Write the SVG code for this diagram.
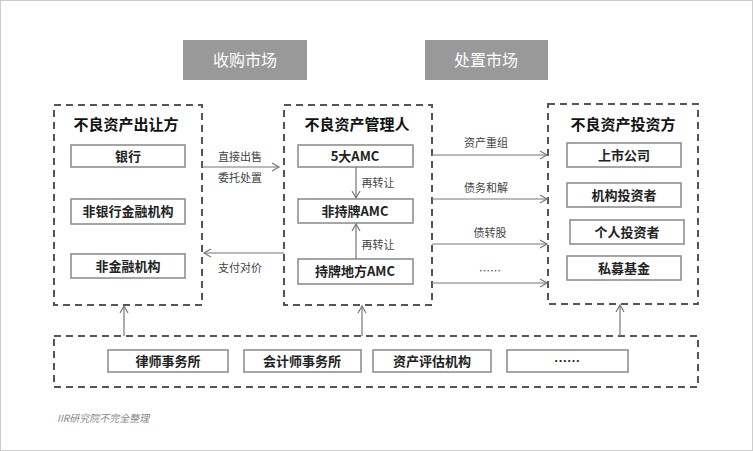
<svg xmlns="http://www.w3.org/2000/svg" width="753" height="451" viewBox="0 0 753 451">
<defs>
<style>
text{font-family:"Noto Sans CJK SC","Liberation Sans",sans-serif;text-anchor:middle}
.d{fill:none;stroke:#555;stroke-width:2;stroke-dasharray:7,5}
.b{fill:#fff;stroke:#888;stroke-width:1.5}
.bt{font-size:13px;font-weight:bold;fill:#222}
.h{font-size:15px;font-weight:bold;fill:#111}
.l{font-size:11px;fill:#444}
.c{stroke:#777;stroke-width:1.2;fill:none;marker-end:url(#a)}
</style>
<marker id="a" markerWidth="10" markerHeight="10" refX="8" refY="5" orient="auto" markerUnits="userSpaceOnUse"><path d="M1,1 L8,5 L1,9" fill="none" stroke="#777" stroke-width="1.2"/></marker>
</defs>
<rect x="0.5" y="0.5" width="752" height="450" fill="#fff" stroke="#ccc"/>
<g id="market1"><rect x="183" y="40" width="124" height="40" fill="#999"/><text x="245" y="66" font-size="16" fill="#fff">收购市场</text></g>
<g id="market2"><rect x="425" y="40" width="123" height="40" fill="#999"/><text x="486" y="66" font-size="16" fill="#fff">处置市场</text></g>
<g id="sellers"><rect class="d" x="54" y="105" width="148" height="200"/><text class="h" x="126" y="130">不良资产出让方</text>
<rect class="b" x="71" y="145" width="114" height="22"/><text class="bt" x="128" y="161">银行</text>
<rect class="b" x="71" y="199" width="114" height="25"/><text class="bt" x="128" y="216">非银行金融机构</text>
<rect class="b" x="71" y="254" width="114" height="24"/><text class="bt" x="128" y="271">非金融机构</text></g>
<g id="managers"><rect class="d" x="284" y="105" width="148" height="200"/><text class="h" x="357" y="130">不良资产管理人</text>
<rect class="b" x="298" y="145" width="115" height="22"/><text class="bt" x="355" y="161">5大AMC</text>
<rect class="b" x="298" y="199" width="115" height="24"/><text class="bt" x="355" y="216">非持牌AMC</text>
<rect class="b" x="298" y="259" width="115" height="25"/><text class="bt" x="355" y="276">持牌地方AMC</text></g>
<g id="investors"><rect class="d" x="548" y="104" width="150" height="200"/><text class="h" x="623" y="130">不良资产投资方</text>
<rect class="b" x="567" y="143" width="114" height="24"/><text class="bt" x="624" y="160">上市公司</text>
<rect class="b" x="567" y="183" width="114" height="24"/><text class="bt" x="624" y="200">机构投资者</text>
<rect class="b" x="570" y="220" width="114" height="24"/><text class="bt" x="627" y="237">个人投资者</text>
<rect class="b" x="567" y="256" width="114" height="24"/><text class="bt" x="624" y="273">私募基金</text></g>
<g id="services"><rect class="d" x="54" y="336" width="644" height="51"/>
<rect class="b" x="108" y="350" width="120" height="22"/><text class="bt" x="168" y="366">律师事务所</text>
<rect class="b" x="244" y="350" width="117" height="22"/><text class="bt" x="302" y="366">会计师事务所</text>
<rect class="b" x="373" y="350" width="118" height="22"/><text class="bt" x="432" y="366">资产评估机构</text>
<rect class="b" x="507" y="350" width="121" height="22"/><text class="bt" x="567" y="366">……</text></g>
<g id="connectors">
<line class="c" x1="202" y1="167" x2="279" y2="167"/>
<line class="c" x1="284" y1="253" x2="204" y2="253"/>
<line class="c" x1="356" y1="167" x2="356" y2="198"/>
<line class="c" x1="356" y1="259" x2="356" y2="224"/>
<line class="c" x1="432" y1="155" x2="547" y2="155"/>
<line class="c" x1="432" y1="199" x2="547" y2="199"/>
<line class="c" x1="432" y1="244" x2="547" y2="244"/>
<line class="c" x1="432" y1="283" x2="547" y2="283"/>
<line class="c" x1="124" y1="336" x2="124" y2="306"/>
<line class="c" x1="362" y1="336" x2="362" y2="306"/>
<line class="c" x1="620" y1="336" x2="620" y2="305"/>
<text class="l" x="240" y="161">直接出售</text><text class="l" x="240" y="182">委托处置</text>
<text class="l" x="240" y="272">支付对价</text>
<text class="l" x="378" y="187">再转让</text><text class="l" x="378" y="249">再转让</text>
<text class="l" x="486" y="147">资产重组</text><text class="l" x="486" y="192">债务和解</text>
<text class="l" x="490" y="237">债转股</text><text class="l" x="490" y="275">……</text>
</g>
<text x="57" y="422" font-size="10" font-style="italic" fill="#888" style="text-anchor:start">IIR研究院不完全整理</text>
</svg>
